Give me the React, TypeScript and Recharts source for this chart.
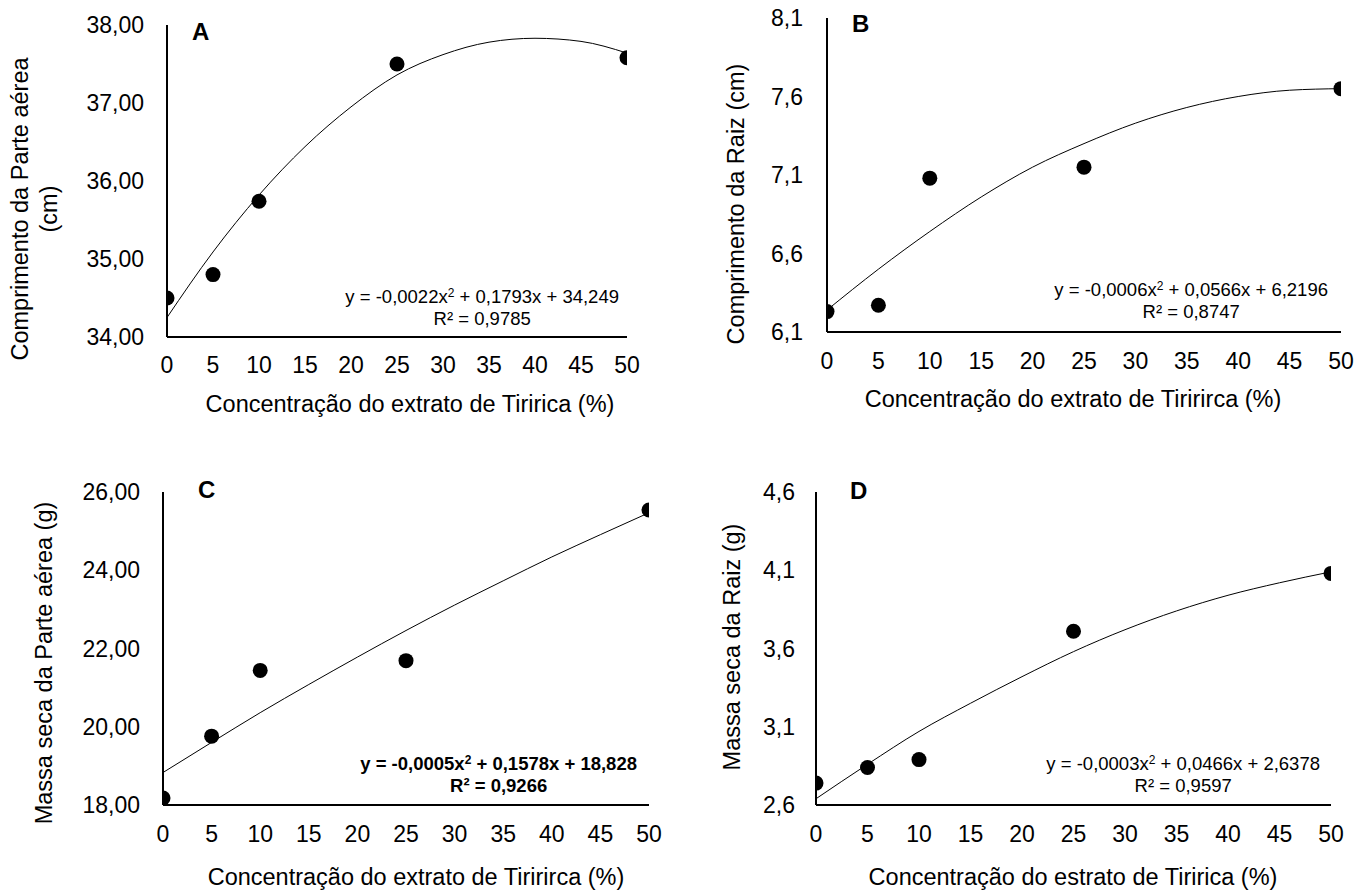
import React from 'react';
import { ComposedChart, Line, Scatter, XAxis, YAxis } from 'recharts';

// concentração do extrato (%)
const concentration = [0, 5, 10, 25, 50];
const xTicks = [0, 5, 10, 15, 20, 25, 30, 35, 40, 45, 50];

// observed means
const shootLength = [34.5, 34.8, 35.74, 37.5, 37.58];
const rootLength = [6.23, 6.27, 7.08, 7.15, 7.65];
const shootDryMass = [18.18, 19.76, 21.44, 21.69, 25.54];
const rootDryMass = [2.74, 2.84, 2.89, 3.71, 4.08];

// trend lines at each x tick
const trendX = [0, 5, 10, 15, 20, 25, 30, 35, 40, 45, 50];
const shootLengthTrend = [34.25, 35.09, 35.82, 36.44, 36.95, 37.36, 37.62, 37.78, 37.83, 37.79, 37.64];
const rootLengthTrend = [6.24, 6.5, 6.74, 6.96, 7.15, 7.3, 7.43, 7.53, 7.6, 7.64, 7.65];
const shootDryMassTrend = [18.83, 19.6, 20.36, 21.08, 21.78, 22.46, 23.11, 23.73, 24.34, 24.91, 25.47];
const rootDryMassTrend = [2.64, 2.86, 3.07, 3.25, 3.42, 3.58, 3.72, 3.84, 3.94, 4.02, 4.09];

const yTicksA = [34, 35, 36, 37, 38];
const yTicksB = [6.1, 6.6, 7.1, 7.6, 8.1];
const yTicksC = [18, 20, 22, 24, 26];
const yTicksD = [2.6, 3.1, 3.6, 4.1, 4.6];

const FONT = '"Liberation Sans", Arial, sans-serif';

const toPoints = (xs: number[], ys: number[]) => xs.map((x, i) => ({ x, y: ys[i] }));

const Dot = (props: any) => <circle cx={props.cx} cy={props.cy} r={7.5} fill="#000" />;

type PanelProps = {
    left: number;
    top: number;
    width: number;
    height: number;
    margin: { top: number; right: number; bottom: number; left: number };
    yDomain: [number, number];
    yTicks: number[];
    decimals: number;
    points: { x: number; y: number }[];
    trend: { x: number; y: number }[];
    yGap: number;
    xGap: number;
};

const Panel = ({ left, top, width, height, margin, yDomain, yTicks, decimals, points, trend, yGap, xGap }: PanelProps) => (
    <div style={{ position: 'absolute', left, top }}>
        <ComposedChart width={width} height={height} margin={margin}>
            <XAxis
                type="number"
                dataKey="x"
                domain={[0, 50]}
                ticks={xTicks}
                interval={0}
                allowDataOverflow
                axisLine={{ stroke: '#000', strokeWidth: 2 }}
                tickLine={false}
                tickSize={0}
                tickMargin={xGap}
                height={40}
                tick={{ fill: '#000', fontSize: 23, fontFamily: FONT }}
            />
            <YAxis
                type="number"
                dataKey="y"
                domain={yDomain}
                ticks={yTicks}
                interval={0}
                allowDataOverflow
                axisLine={{ stroke: '#000', strokeWidth: 2 }}
                tickLine={false}
                tickSize={0}
                tickMargin={yGap}
                width={60}
                tickFormatter={(v: number) => v.toFixed(decimals).replace('.', ',')}
                tick={{ fill: '#000', fontSize: 23, fontFamily: FONT }}
            />
            <Line
                data={trend}
                dataKey="y"
                type="monotone"
                stroke="#000"
                strokeWidth={1}
                dot={false}
                activeDot={false}
                isAnimationActive={false}
            />
            <Scatter data={points} dataKey="y" shape={Dot} isAnimationActive={false} />
        </ComposedChart>
    </div>
);

const text = (left: number, top: number, extra: React.CSSProperties = {}): React.CSSProperties => ({
    position: 'absolute',
    left,
    top,
    whiteSpace: 'nowrap',
    fontFamily: FONT,
    color: '#000',
    ...extra,
});

const rotated = (left: number, top: number, extra: React.CSSProperties = {}) =>
    text(left, top, { transform: 'translate(-50%, -50%) rotate(-90deg)', textAlign: 'center', fontSize: 23.5, lineHeight: '29px', ...extra });

const centered = (left: number, top: number, extra: React.CSSProperties = {}) =>
    text(left, top, { transform: 'translate(-50%, -50%)', fontSize: 23.5, ...extra });

const Equation = ({ right, top, a, b, c, r2, bold }: { right: number; top: number; a: string; b: string; c: string; r2: string; bold?: boolean }) => (
    <div
        style={text(0, top, {
            left: 'auto',
            right: 1370 - right,
            fontSize: 18.5,
            lineHeight: '22px',
            textAlign: 'center',
            fontWeight: bold ? 'bold' : 'normal',
        })}
    >
        <div>
            y = {a}x<sup style={{ fontSize: 12, verticalAlign: 'top', lineHeight: '14px' }}>2</sup> + {b}x + {c}
        </div>
        <div>R² = {r2}</div>
    </div>
);

export default function App() {
    return (
        <div style={{ position: 'absolute', left: 0, top: 0, width: 1370, height: 890, background: '#fff', overflow: 'hidden' }}>
            <Panel
                left={0}
                top={0}
                width={685}
                height={440}
                margin={{ top: 25, right: 58, bottom: 63, left: 107 }}
                yDomain={[34, 38]}
                yTicks={yTicksA}
                decimals={2}
                points={toPoints(concentration, shootLength)}
                trend={toPoints(trendX, shootLengthTrend)}
                yGap={23}
                xGap={20}
            />
            <Panel
                left={685}
                top={0}
                width={685}
                height={440}
                margin={{ top: 18, right: 29, bottom: 68, left: 82 }}
                yDomain={[6.1, 8.1]}
                yTicks={yTicksB}
                decimals={1}
                points={toPoints(concentration, rootLength)}
                trend={toPoints(trendX, rootLengthTrend)}
                yGap={24}
                xGap={21}
            />
            <Panel
                left={0}
                top={440}
                width={685}
                height={450}
                margin={{ top: 52, right: 36, bottom: 45, left: 103 }}
                yDomain={[18, 26]}
                yTicks={yTicksC}
                decimals={2}
                points={toPoints(concentration, shootDryMass)}
                trend={toPoints(trendX, shootDryMassTrend)}
                yGap={23}
                xGap={21}
            />
            <Panel
                left={685}
                top={440}
                width={685}
                height={450}
                margin={{ top: 52, right: 39, bottom: 45, left: 71 }}
                yDomain={[2.6, 4.6]}
                yTicks={yTicksD}
                decimals={1}
                points={toPoints(concentration, rootDryMass)}
                trend={toPoints(trendX, rootDryMassTrend)}
                yGap={21}
                xGap={21}
            />

            {/* panel letters */}
            <div style={text(192, 18, { fontSize: 24, fontWeight: 'bold' })}>A</div>
            <div style={text(852, 10, { fontSize: 24, fontWeight: 'bold' })}>B</div>
            <div style={text(198, 476, { fontSize: 24, fontWeight: 'bold' })}>C</div>
            <div style={text(850, 477, { fontSize: 24, fontWeight: 'bold' })}>D</div>

            {/* y axis titles */}
            <div style={rotated(34.5, 209)}>
                Comprimento da Parte aérea
                <br />
                (cm)
            </div>
            <div style={rotated(736, 204)}>Comprimento da Raiz (cm)</div>
            <div style={rotated(44, 663)}>Massa seca da Parte aérea (g)</div>
            <div style={rotated(732, 647)}>Massa seca da Raiz (g)</div>

            {/* x axis titles */}
            <div style={centered(410, 404)}>Concentração do extrato de Tiririca (%)</div>
            <div style={centered(1073, 399)}>Concentração do extrato de Tiririrca (%)</div>
            <div style={centered(416, 877)}>Concentração do extrato de Tiririrca (%)</div>
            <div style={centered(1073, 877)}>Concentração do estrato de Tiririca (%)</div>

            {/* trend equations */}
            <Equation right={619} top={286} a="-0,0022" b="0,1793" c="34,249" r2="0,9785" />
            <Equation right={1328} top={279} a="-0,0006" b="0,0566" c="6,2196" r2="0,8747" />
            <Equation right={637} top={753} a="-0,0005" b="0,1578" c="18,828" r2="0,9266" bold />
            <Equation right={1320} top={753} a="-0,0003" b="0,0466" c="2,6378" r2="0,9597" />
        </div>
    );
}
